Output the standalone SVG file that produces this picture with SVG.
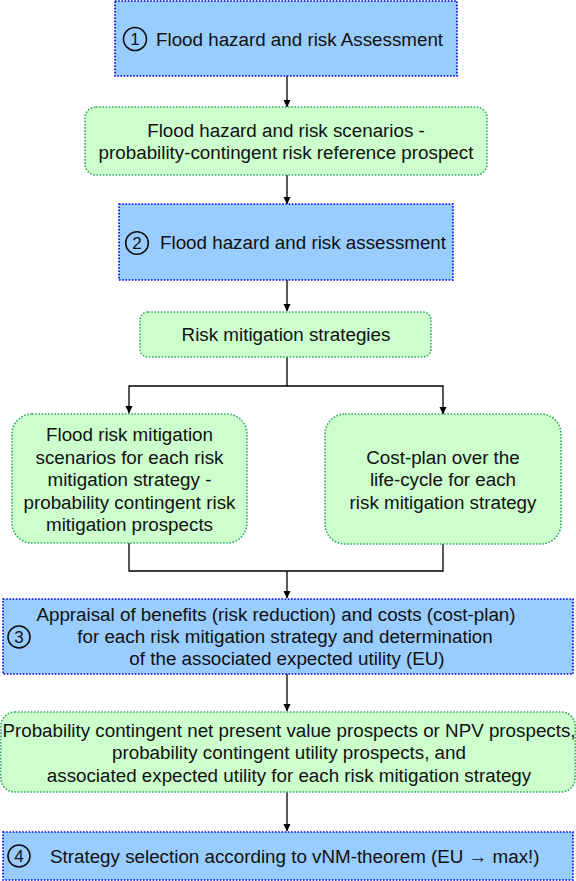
<svg xmlns="http://www.w3.org/2000/svg" width="576" height="881" viewBox="0 0 576 881">
<style>
.blue{fill:#99ccff;stroke:#0000ee;stroke-width:1.6;stroke-dasharray:1.6 1.6}
.green{fill:#ccffcc;stroke:#33aa66;stroke-width:1.6;stroke-dasharray:1.6 1.6}
text{font-family:"Liberation Sans",Arial,sans-serif;font-size:18.8px;fill:#111}
.c{text-anchor:middle}
.num{fill:none;stroke:#111;stroke-width:1.6}
.dig{font-size:17px;text-anchor:middle}
#connectors path{fill:none;stroke:#000;stroke-width:1.3}
</style>
<defs>
<marker id="arr" markerWidth="8" markerHeight="8" refX="7" refY="4" orient="auto" markerUnits="userSpaceOnUse">
<path d="M0,0.5 L7.5,4 L0,7.5 Z" fill="#000"/>
</marker>
</defs>
<g id="connectors">
<path d="M287,76 V107" marker-end="url(#arr)"/>
<path d="M287,175 V204" marker-end="url(#arr)"/>
<path d="M287,280 V311" marker-end="url(#arr)"/>
<path d="M287,357 V386 H129 V413" marker-end="url(#arr)"/>
<path d="M287,386 H443 V414" marker-end="url(#arr)"/>
<path d="M129,543 V571 H443 V544"/>
<path d="M287,571 V598" marker-end="url(#arr)"/>
<path d="M287,674 V711" marker-end="url(#arr)"/>
<path d="M287,792 V831" marker-end="url(#arr)"/>
</g>
<g id="n1">
<rect class="blue" x="115" y="1" width="342" height="75"/>
<circle class="num" cx="135" cy="39" r="11.5"/>
<text class="dig" x="135" y="45">1</text>
<text x="156" y="46">Flood hazard and risk Assessment</text>
</g>
<g id="n2">
<rect class="green" x="85" y="107" width="402" height="68" rx="11"/>
<text class="c" x="286" y="137">Flood hazard and risk scenarios -</text>
<text class="c" x="286" y="159">probability-contingent risk reference prospect</text>
</g>
<g id="n3">
<rect class="blue" x="119" y="204" width="334" height="76"/>
<circle class="num" cx="137" cy="243" r="11.3"/>
<text class="dig" x="137" y="249">2</text>
<text x="160" y="249">Flood hazard and risk assessment</text>
</g>
<g id="n4">
<rect class="green" x="140" y="312" width="291" height="45" rx="8"/>
<text class="c" x="286" y="341">Risk mitigation strategies</text>
</g>
<g id="n5">
<rect class="green" x="12" y="414" width="235" height="129" rx="20"/>
<text class="c" x="129.5" y="441">Flood risk mitigation</text>
<text class="c" x="129.5" y="463.5">scenarios for each risk</text>
<text class="c" x="129.5" y="486">mitigation strategy -</text>
<text class="c" x="129.5" y="508.5">probability contingent risk</text>
<text class="c" x="129.5" y="531">mitigation prospects</text>
</g>
<g id="n6">
<rect class="green" x="325" y="414" width="236" height="130" rx="20"/>
<text class="c" x="443" y="464">Cost-plan over the</text>
<text class="c" x="443" y="486">life-cycle for each</text>
<text class="c" x="443" y="509">risk mitigation strategy</text>
</g>
<g id="n7">
<rect class="blue" x="3" y="599" width="570" height="75"/>
<circle class="num" cx="19" cy="637" r="11"/>
<text class="dig" x="19" y="643">3</text>
<text class="c" x="276" y="621">Appraisal of benefits (risk reduction) and costs (cost-plan)</text>
<text class="c" x="285" y="643">for each risk mitigation strategy and determination</text>
<text class="c" x="287" y="665">of the associated expected utility (EU)</text>
</g>
<g id="n8">
<rect class="green" x="0.8" y="712" width="574.4" height="80" rx="14"/>
<text class="c" x="289" y="737">Probability contingent net present value prospects or NPV prospects,</text>
<text class="c" x="289" y="759">probability contingent utility prospects, and</text>
<text class="c" x="289" y="782">associated expected utility for each risk mitigation strategy</text>
</g>
<g id="n9">
<rect class="blue" x="3" y="832" width="570" height="48"/>
<circle class="num" cx="19" cy="856" r="11"/>
<text class="dig" x="19" y="862">4</text>
<text x="50" y="863">Strategy selection according to vNM-theorem (EU → max!)</text>
</g>
</svg>
